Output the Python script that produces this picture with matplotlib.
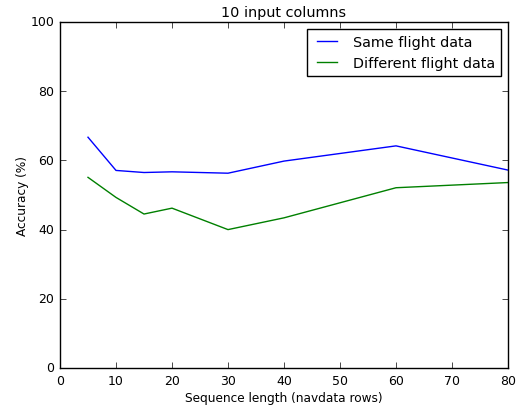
import matplotlib
matplotlib.use("Agg")
import matplotlib.pyplot as plt

# ====== DATA ======
seq_len = [5, 10, 15, 20, 30, 40, 60, 80]
same_flight = [66.7, 57.1, 56.5, 56.7, 56.3, 59.8, 64.2, 57.2]
diff_flight = [55.1, 49.3, 44.5, 46.2, 40.0, 43.4, 52.1, 53.6]

plt.style.use("classic")
plt.rcParams["font.family"] = "DejaVu Sans"

fig = plt.figure(figsize=(5.18, 4.10), dpi=100, facecolor="white")
ax = fig.add_axes([60/518, 41/410, 448/518, 346/410])

ax.plot(seq_len, same_flight, color="b", linewidth=1.0, label="Same flight data")
ax.plot(seq_len, diff_flight, color="g", linewidth=1.0, label="Different flight data")

ax.set_xlim(0, 80)
ax.set_ylim(0, 100)
ax.set_xticks(range(0, 81, 10))
ax.set_yticks(range(0, 101, 20))
ax.tick_params(labelsize=9)

ax.set_xlabel("Sequence length (navdata rows)", fontsize=8.7, labelpad=3)
ax.set_ylabel("Accuracy (%)", fontsize=8.7, labelpad=1)
ax.set_title("10 input columns", fontsize=10.4, pad=4)

ax.legend(loc="upper right", fontsize=10.4, frameon=True, fancybox=False)

fig.savefig("out.png", dpi=100, facecolor="white")
